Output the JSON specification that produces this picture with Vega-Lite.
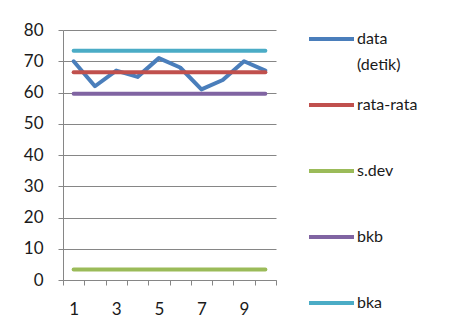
{
  "$schema": "https://vega.github.io/schema/vega-lite/v6.json",
  "width": 213,
  "height": 250,
  "autosize": {"type": "none"},
  "padding": {"left": 63, "top": 30, "right": 180, "bottom": 50},
  "background": "white",
  "config": {"view": {"stroke": null}, "font": "Lato"},
  "data": {
    "values": [
      {"x": 1, "series": "data (detik)", "value": 70},
      {"x": 2, "series": "data (detik)", "value": 62},
      {"x": 3, "series": "data (detik)", "value": 67},
      {"x": 4, "series": "data (detik)", "value": 65},
      {"x": 5, "series": "data (detik)", "value": 71},
      {"x": 6, "series": "data (detik)", "value": 68},
      {"x": 7, "series": "data (detik)", "value": 61},
      {"x": 8, "series": "data (detik)", "value": 64},
      {"x": 9, "series": "data (detik)", "value": 70},
      {"x": 10, "series": "data (detik)", "value": 67},
      {"x": 1, "series": "rata-rata", "value": 66.5},
      {"x": 2, "series": "rata-rata", "value": 66.5},
      {"x": 3, "series": "rata-rata", "value": 66.5},
      {"x": 4, "series": "rata-rata", "value": 66.5},
      {"x": 5, "series": "rata-rata", "value": 66.5},
      {"x": 6, "series": "rata-rata", "value": 66.5},
      {"x": 7, "series": "rata-rata", "value": 66.5},
      {"x": 8, "series": "rata-rata", "value": 66.5},
      {"x": 9, "series": "rata-rata", "value": 66.5},
      {"x": 10, "series": "rata-rata", "value": 66.5},
      {"x": 1, "series": "s.dev", "value": 3.4},
      {"x": 2, "series": "s.dev", "value": 3.4},
      {"x": 3, "series": "s.dev", "value": 3.4},
      {"x": 4, "series": "s.dev", "value": 3.4},
      {"x": 5, "series": "s.dev", "value": 3.4},
      {"x": 6, "series": "s.dev", "value": 3.4},
      {"x": 7, "series": "s.dev", "value": 3.4},
      {"x": 8, "series": "s.dev", "value": 3.4},
      {"x": 9, "series": "s.dev", "value": 3.4},
      {"x": 10, "series": "s.dev", "value": 3.4},
      {"x": 1, "series": "bkb", "value": 59.6},
      {"x": 2, "series": "bkb", "value": 59.6},
      {"x": 3, "series": "bkb", "value": 59.6},
      {"x": 4, "series": "bkb", "value": 59.6},
      {"x": 5, "series": "bkb", "value": 59.6},
      {"x": 6, "series": "bkb", "value": 59.6},
      {"x": 7, "series": "bkb", "value": 59.6},
      {"x": 8, "series": "bkb", "value": 59.6},
      {"x": 9, "series": "bkb", "value": 59.6},
      {"x": 10, "series": "bkb", "value": 59.6},
      {"x": 1, "series": "bka", "value": 73.4},
      {"x": 2, "series": "bka", "value": 73.4},
      {"x": 3, "series": "bka", "value": 73.4},
      {"x": 4, "series": "bka", "value": 73.4},
      {"x": 5, "series": "bka", "value": 73.4},
      {"x": 6, "series": "bka", "value": 73.4},
      {"x": 7, "series": "bka", "value": 73.4},
      {"x": 8, "series": "bka", "value": 73.4},
      {"x": 9, "series": "bka", "value": 73.4},
      {"x": 10, "series": "bka", "value": 73.4}
    ]
  },
  "mark": {"type": "line", "strokeWidth": 4, "strokeCap": "round", "strokeJoin": "round"},
  "encoding": {
    "x": {
      "field": "x",
      "type": "quantitative",
      "scale": {"domain": [0.5, 10.5], "nice": false, "zero": false},
      "axis": {
        "title": null,
        "values": [0.5, 1, 1.5, 2, 2.5, 3, 3.5, 4, 4.5, 5, 5.5, 6, 6.5, 7, 7.5, 8, 8.5, 9, 9.5, 10, 10.5],
        "labelExpr": "datum.value % 2 == 1 ? '' + datum.value : ''",
        "tickOpacity": {"condition": {"test": "datum.value % 1 == 0", "value": 0}, "value": 1},
        "grid": false,
        "tickSize": 5,
        "tickColor": "#868686",
        "domainColor": "#868686",
        "labelPadding": 16,
        "labelFontSize": 17,
        "labelOverlap": false,
        "labelFlush": false,
        "labelColor": "#1a1a1a"
      }
    },
    "y": {
      "field": "value",
      "type": "quantitative",
      "scale": {"domain": [0, 80], "nice": false},
      "axis": {
        "title": null,
        "values": [0, 10, 20, 30, 40, 50, 60, 70, 80],
        "grid": true,
        "gridColor": "#868686",
        "gridOpacity": 1,
        "tickSize": 5,
        "tickColor": "#868686",
        "domainColor": "#868686",
        "labelPadding": 15,
        "labelFontSize": 17,
        "labelColor": "#1a1a1a"
      }
    },
    "color": {
      "field": "series",
      "type": "nominal",
      "scale": {
        "domain": ["data (detik)", "rata-rata", "s.dev", "bkb", "bka"],
        "range": ["#4A7EBB", "#C0504D", "#9BBB59", "#8064A2", "#4BACC6"]
      },
      "legend": {
        "title": null,
        "orient": "right",
        "offset": 31,
        "padding": 0,
        "symbolType": "stroke",
        "symbolStrokeWidth": 4,
        "symbolSize": 2025,
        "labelFontSize": 16,
        "labelOffset": 1,
        "labelColor": "#1a1a1a",
        "clipHeight": 18,
        "gridAlign": "all",
        "rowPadding": 23,
        "labelLimit": 200,
        "labelBaseline": "middle",
        "labelExpr": "datum.label == 'data (detik)' ? ['data', '(detik)'] : datum.label",
        "encode": {"labels": {"update": {"lineHeight": {"value": 26}}}}
      }
    }
  }
}
